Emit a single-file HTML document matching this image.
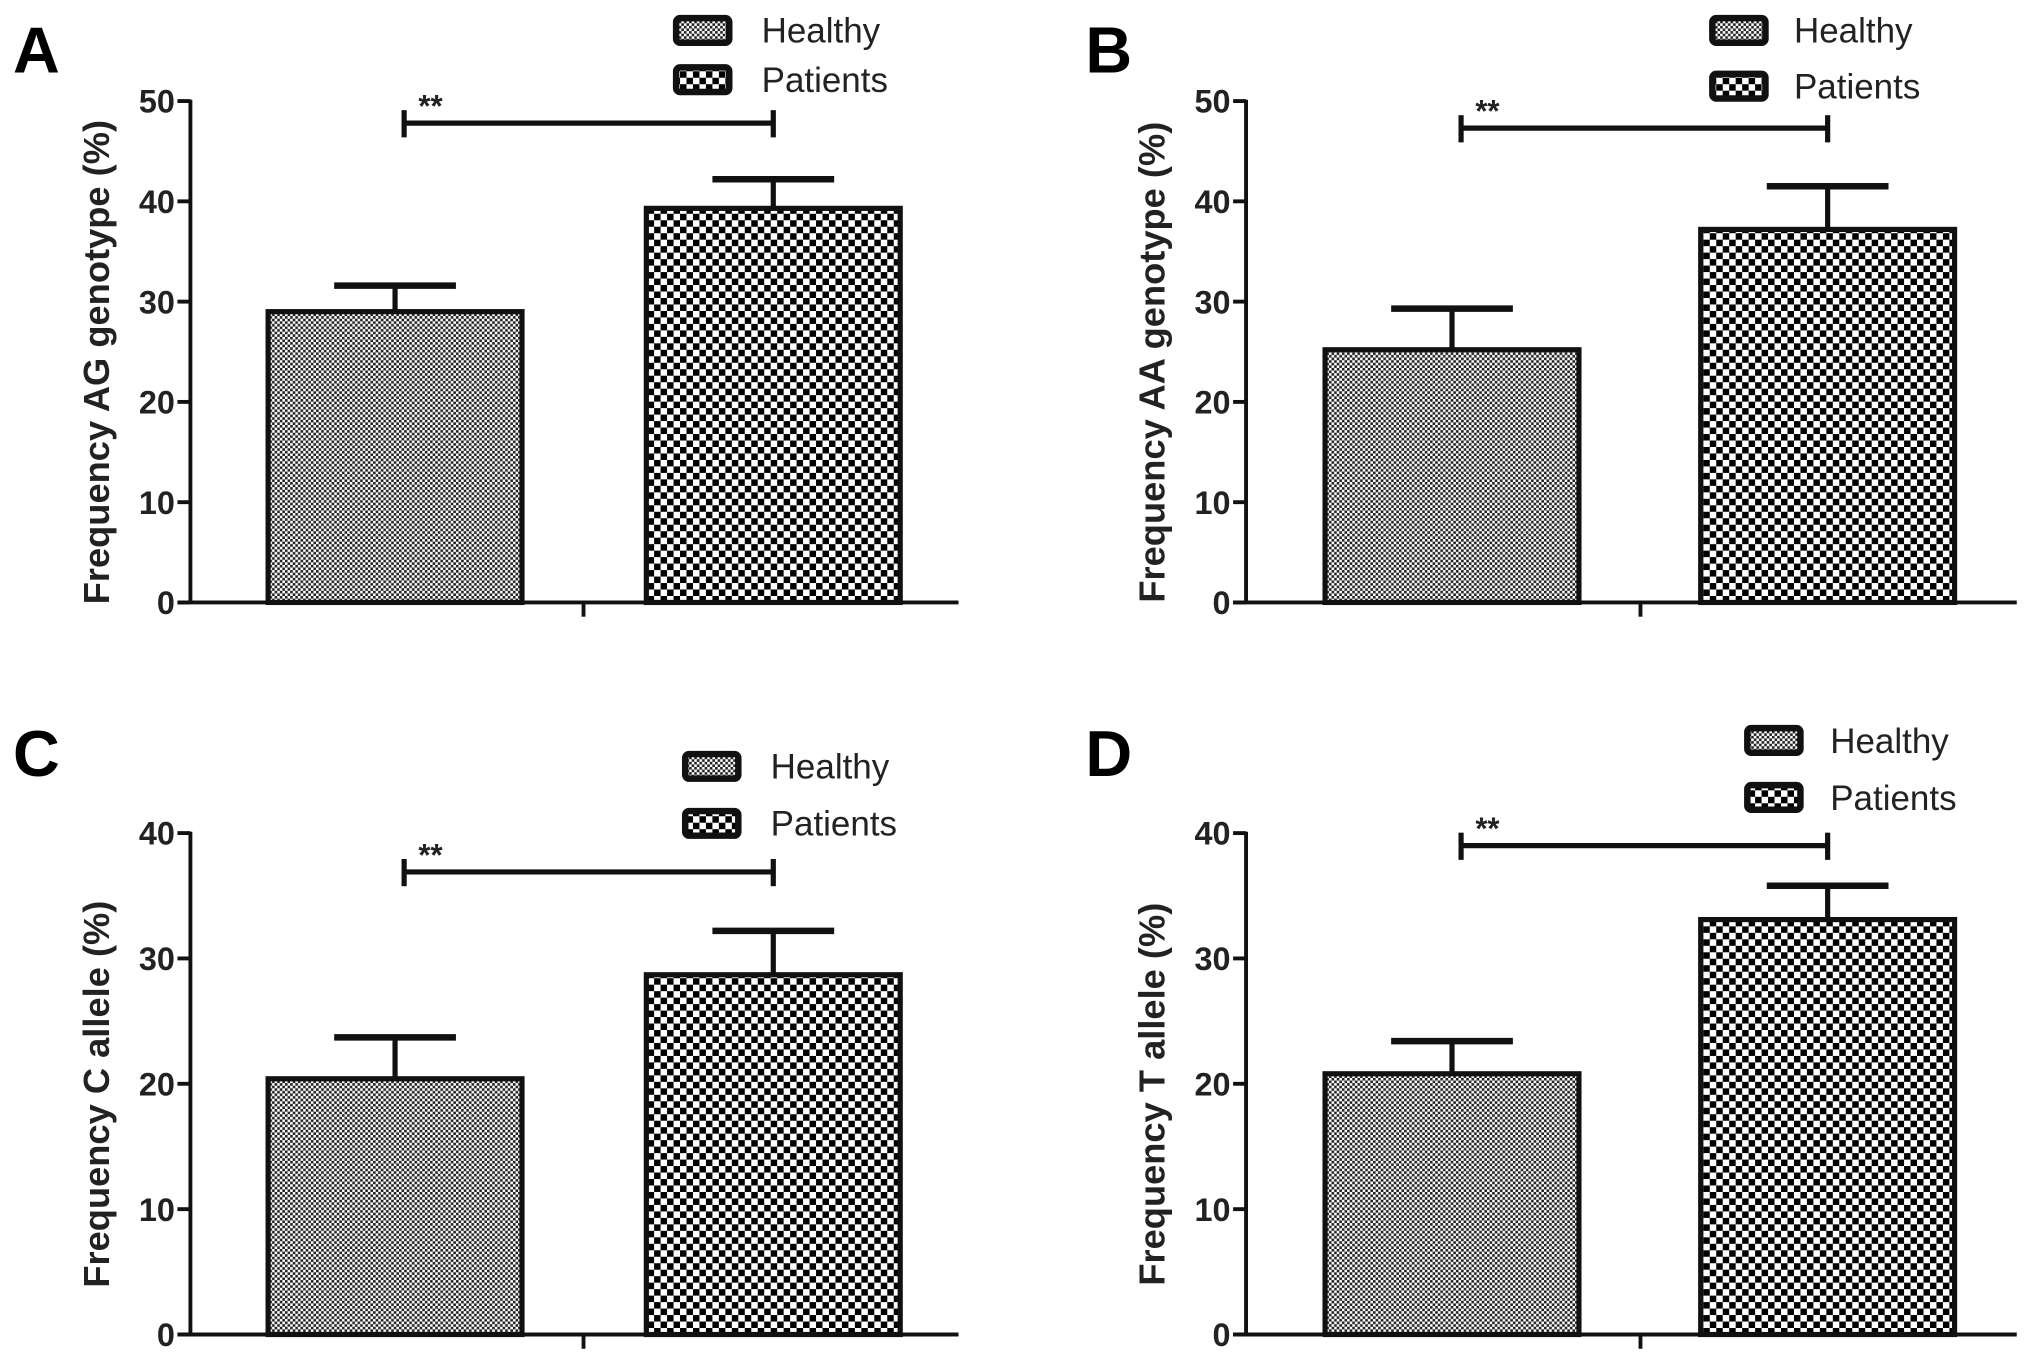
<!DOCTYPE html>
<html><head><meta charset="utf-8"><style>
html,body{margin:0;padding:0;background:#fff;}
svg{display:block;}
text{font-family:"Liberation Sans",Arial,sans-serif;}
</style></head><body>
<svg id="fig" width="2031" height="1363" viewBox="0 0 1568 1052" preserveAspectRatio="none" xmlns="http://www.w3.org/2000/svg">
<defs>
<pattern id="fine" width="4" height="4" patternUnits="userSpaceOnUse">
<rect width="4" height="4" fill="#fff"/><rect width="2" height="2" fill="#222"/><rect x="2" y="2" width="2" height="2" fill="#222"/>
</pattern>
<pattern id="coarse" width="10" height="10" patternUnits="userSpaceOnUse">
<rect width="10" height="10" fill="#fff"/><rect width="5" height="5" fill="#000"/><rect x="5" y="5" width="5" height="5" fill="#000"/>
</pattern>
</defs>
</svg>
<script>
const panelLetters=["A","B","C","D"];
const yTitles=["Frequency AG genotype  (%)","Frequency AA genotype  (%)","Frequency C allele (%)","Frequency T allele (%)"];
const yMaxes=[50,50,40,40];
const healthyValues=[29,25.2,20.4,20.8];
const healthyErrors=[2.6,4.1,3.3,2.6];
const patientValues=[39.3,37.2,28.7,33.1];
const patientErrors=[2.9,4.3,3.5,2.7];
const sigLabels=["**","**","**","**"];
const sigValues=[47.8,47.3,36.9,39];
const seriesNames=["Healthy","Patients"];

const NS="http://www.w3.org/2000/svg";
const svg=document.getElementById("fig");
function el(tag,attrs,parent){const e=document.createElementNS(NS,tag);for(const k in attrs)e.setAttribute(k,attrs[k]);(parent||svg).appendChild(e);return e;}

const layouts=[
 {ax:147,top:78,zero:465,right:740,b1:207,b2:499,bw:196,lbx:520,lby:12,lgap:38,ltx:588,lx:10,ly:56,tx:84},
 {ax:962,top:78,zero:465,right:1557,b1:1023,b2:1313,bw:196,lbx:1320,lby:12,lgap:43,ltx:1385,lx:838,ly:56,tx:899},
 {ax:147,top:643,zero:1030,right:740,b1:207,b2:499,bw:196,lbx:527,lby:580,lgap:44,ltx:595,lx:10,ly:599,tx:84},
 {ax:962,top:643,zero:1030,right:1557,b1:1023,b2:1313,bw:196,lbx:1347,lby:560,lgap:44,ltx:1413,lx:838,ly:599,tx:899}
];

panelLetters.forEach((L,i)=>{
 const p=layouts[i];
 const g=el("g",{});
 
 
 const y=v=>p.zero-(v/yMaxes[i])*(p.zero-p.top);
 const lt=el("text",{x:p.lx,y:p.ly,"font-size":50,"font-weight":"bold"},g);lt.textContent=L;
 
 
 const ya=el("line",{x1:p.ax,y1:p.top-1,x2:p.ax,y2:p.zero,stroke:"#111","stroke-width":3},g);
 
 
 const xa=el("line",{x1:p.ax-10,y1:p.zero,x2:p.right,y2:p.zero,stroke:"#111","stroke-width":3},g);
 
 
 el("line",{x1:(p.ax+p.right)/2+7,y1:p.zero,x2:(p.ax+p.right)/2+7,y2:p.zero+11,stroke:"#111","stroke-width":3},g);
 for(let v=0;v<=yMaxes[i];v+=10){
  el("line",{x1:p.ax-10,y1:y(v),x2:p.ax,y2:y(v),stroke:"#111","stroke-width":3},g);
  const t=el("text",{x:p.ax-12,y:y(v)+9,"font-size":25,"font-weight":"bold","text-anchor":"end",fill:"#222"},g);
  t.textContent=v;
  
  
 }
 const cy=(p.top+p.zero)/2+8;
 const yt=el("text",{x:p.tx,y:cy,"font-size":28,"font-weight":"bold","text-anchor":"middle",fill:"#222",transform:`rotate(-90 ${p.tx} ${cy})`},g);
 yt.textContent=yTitles[i];
 
 
 const bars=[[p.b1,healthyValues[i],healthyErrors[i],"fine","healthy"],[p.b2,patientValues[i],patientErrors[i],"coarse","patients"]];
 bars.forEach(([bx,v,e,pat,nm])=>{
  const cx=bx+p.bw/2;
  el("line",{x1:cx,y1:y(v),x2:cx,y2:y(v+e),stroke:"#111","stroke-width":4},g);
  el("line",{x1:cx-47,y1:y(v+e),x2:cx+47,y2:y(v+e),stroke:"#111","stroke-width":5},g);
  const r=el("rect",{x:bx,y:y(v),width:p.bw,height:p.zero-y(v),fill:`url(#${pat})`,stroke:"#111","stroke-width":4},g);
  
  
 });
 const sy=y(sigValues[i]);
 const s1=p.b1+p.bw/2+7, s2=p.b2+p.bw/2;
 const sb=el("line",{x1:s1,y1:sy,x2:s2,y2:sy,stroke:"#111","stroke-width":4},g);
 
 
 el("line",{x1:s1,y1:sy-10,x2:s1,y2:sy+11,stroke:"#111","stroke-width":4},g);
 el("line",{x1:s2,y1:sy-10,x2:s2,y2:sy+11,stroke:"#111","stroke-width":4},g);
 const st=el("text",{x:s1+11,y:sy-5,"font-size":24,"font-weight":"bold",fill:"#222"},g);
 st.textContent=sigLabels[i];
 
 
 seriesNames.forEach((n,k)=>{
  const by=p.lby+k*p.lgap;
  const lb=el("rect",{x:p.lbx+2,y:by+2,width:41,height:19,rx:3,fill:k?"url(#coarse)":"url(#fine)",stroke:"#111","stroke-width":5},g);
  
  
  const tt=el("text",{x:p.ltx,y:by+21,"font-size":27,fill:"#222"},g);
  tt.textContent=n;
  
  
 });
});
</script>
</body></html>
